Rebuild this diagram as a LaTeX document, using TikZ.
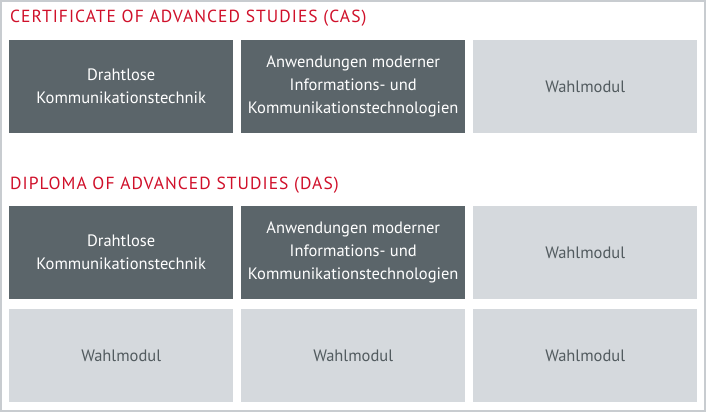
\documentclass[tikz,border=0pt]{standalone}
\usepackage{fontspec}
\setmainfont{PT Sans}
\definecolor{dk}{HTML}{5B656A}
\definecolor{lt}{HTML}{D5D9DD}
\definecolor{rd}{HTML}{D0102A}
\definecolor{frame}{HTML}{C8CCD0}
\begin{document}
\begin{tikzpicture}[x=1pt,y=-1pt,
  box/.style={minimum width=224pt,minimum height=93pt,inner sep=0pt,anchor=north west,align=center,font=\fontsize{16.5}{23}\selectfont},
  dbox/.style={box,fill=dk,text=white},
  lbox/.style={box,fill=lt,text=dk!90!black},
  ttl/.style={anchor=west,text=rd,inner sep=0pt,font=\addfontfeatures{LetterSpace=6}\fontsize{17.5}{20}\selectfont}]
\draw[frame,line width=2pt,fill=white] (1,1) rectangle (705,411);
\useasboundingbox (0,0) rectangle (706,412);
\node[ttl] (t1) at (10,18) {CERTIFICATE OF ADVANCED STUDIES (CAS)};
\node[dbox] (a1) at (9,40) {Drahtlose\\Kommunikationstechnik};
\node[dbox] (a2) at (241,40) {Anwendungen moderner\\Informations- und\\Kommunikationstechnologien};
\node[lbox] (a3) at (473,40) {Wahlmodul};
\node[ttl] (t2) at (10,185) {DIPLOMA OF ADVANCED STUDIES (DAS)};
\node[dbox] (b1) at (9,206) {Drahtlose\\Kommunikationstechnik};
\node[dbox] (b2) at (241,206) {Anwendungen moderner\\Informations- und\\Kommunikationstechnologien};
\node[lbox] (b3) at (473,206) {Wahlmodul};
\node[lbox] (c1) at (9,309) {Wahlmodul};
\node[lbox] (c2) at (241,309) {Wahlmodul};
\node[lbox] (c3) at (473,309) {Wahlmodul};
\end{tikzpicture}
\end{document}
